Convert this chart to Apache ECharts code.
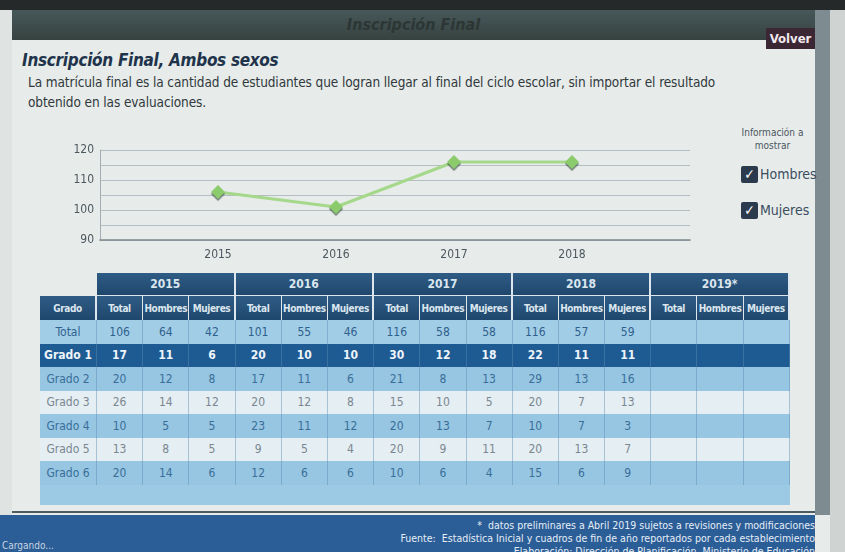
<!DOCTYPE html>
<html>
<head>
<meta charset="utf-8">
<script src="https://cdn.jsdelivr.net/npm/echarts@6/dist/echarts.min.js"></script>
<style>
  html, body { margin: 0; padding: 0; }
  body {
    width: 845px; height: 552px; overflow: hidden; position: relative;
    background: #e7ecea; font-family: "DejaVu Sans Condensed", "DejaVu Sans", sans-serif;
  }
  .abs { position: absolute; }
  #topdark { left: 0; top: 0; width: 845px; height: 10px; background: #26292a; }
  #header {
    left: 12px; top: 10px; width: 803px; height: 30px;
    background: linear-gradient(#47585a, #36423f);
    text-align: center; line-height: 30px; color: #2c3634;
    font-style: italic; font-weight: bold; font-size: 16px;
  }
  #volver {
    left: 766px; top: 28px; width: 49px; height: 21px; background: #3b2634;
    color: #f1e9ee; font-weight: bold; font-size: 13px; line-height: 21px; text-align: center;
  }
  #leftstrip { left: 0; top: 10px; width: 12px; height: 505px; background: #dfe3e2; }
  #rightstrip { left: 815px; top: 10px; width: 15px; height: 505px; background: #7e8c91; }
  #rightstrip2 { left: 830px; top: 10px; width: 15px; height: 542px; background: #cfd3d2; }
  #title {
    left: 22px; top: 50px; font-size: 17px; font-weight: bold; font-style: italic;
    color: #20334a; letter-spacing: -0.3px;
  }
  #desc {
    left: 28px; top: 72px; width: 700px; font-size: 13.5px; line-height: 20px; color: #30383c;
    letter-spacing: -0.1px;
  }
  #chart { left: 0; top: 130px; width: 720px; height: 140px; }
  #info { left: 730px; top: 126px; width: 85px; text-align: center; font-size: 10px; line-height: 13px; color: #4a5560; }
  .chk { left: 741px; width: 17px; height: 17px; background: #2b3a4c; border-radius: 2px;
         color: #fff; font-size: 14px; line-height: 17px; text-align: center; font-weight: bold; }
  .chklbl { left: 760px; font-size: 14px; color: #3b4d5f; }
  #tbl { left: 40px; top: 273px; border-collapse: separate; border-spacing: 0; table-layout: fixed; width: 750px; }
  #tbl td, #tbl th { padding: 0; text-align: center; font-size: 11px; overflow: hidden; white-space: nowrap; }
  #tbl th { color: #dbe6ef; font-weight: bold; background: linear-gradient(#2f5c85, #1f476d); border-right: 2px solid #dce6ec; }
  #tbl tr.yr th { height: 22px; border-bottom: 1px solid #dce6ec; font-size: 12px; }
  #tbl tr.sub th { height: 24px; font-size: 10px; letter-spacing: -0.4px; border-right: 1px solid #dce6ec; }
  #tbl tr.sub th.first { border-right: 2px solid #dce6ec; }
  #tbl td { height: 23.5px; border-right: 1px solid rgba(90,140,180,0.45); font-size: 12px; }
  #tbl tr.lt td { background: #96c6e2; color: #3a6e99; }
  #tbl tr.wh td { background: #e4eef3; color: #7b8790; }
  #tbl tr.dk td { background: #1e5b93; color: #eef4fa; font-weight: bold; }
  #tbl tr.tot td { background: #a2cde6; color: #2f618d; }
  #tbl tr.fill td { background: #9cc9e3; height: 20px; border-right: none; }
  #tbl td.g { color: #53606a; }
  #tbl tr.dk td.g { color: #eef4fa; }
  #line1 { left: 12px; top: 511px; width: 803px; height: 2px; background: #4d5a60; }
  #footer { left: 0; top: 515px; width: 815px; height: 37px; background: #2b5d96; }
  .ft { right: 30px; color: #e6eef7; font-size: 10.5px; white-space: nowrap; }
  #cargando { left: 2px; top: 540px; font-size: 10px; color: #c7d3e0; }
</style>
</head>
<body>
<div id="topdark" class="abs"></div>
<div id="leftstrip" class="abs"></div>
<div id="rightstrip2" class="abs"></div>
<div id="rightstrip" class="abs"></div>
<div id="header" class="abs">Inscripción Final</div>
<div id="volver" class="abs">Volver</div>
<div id="title" class="abs">Inscripción Final, Ambos sexos</div>
<div id="desc" class="abs">La matrícula final es la cantidad de estudiantes que logran llegar al final del ciclo escolar, sin importar el resultado obtenido en las evaluaciones.</div>
<div id="chart" class="abs"></div>
<div id="info" class="abs">Información a<br>mostrar</div>
<div class="abs chk" style="top:166px">✓</div>
<div class="abs chklbl" style="top:166px">Hombres</div>
<div class="abs chk" style="top:202px">✓</div>
<div class="abs chklbl" style="top:202px">Mujeres</div>
<table id="tbl" class="abs"></table>
<div id="line1" class="abs"></div>
<div id="footer" class="abs"></div>
<div class="abs ft" style="top:519px">*&nbsp; datos preliminares a Abril 2019 sujetos a revisiones y modificaciones</div>
<div class="abs ft" style="top:532px">Fuente:&nbsp; Estadística Inicial y cuadros de fin de año reportados por cada establecimiento</div>
<div class="abs ft" style="top:545px">Elaboración: Dirección de Planificación, Ministerio de Educación</div>
<div id="cargando" class="abs">Cargando...</div>

<script>
// datos del grafico
const chartYears = [2015, 2016, 2017, 2018];
const chartTotals = [106, 101, 116, 116];

// datos de la tabla
const tableYears = ["2015", "2016", "2017", "2018", "2019*"];
const subCols = ["Total", "Hombres", "Mujeres"];
const grados = ["Total", "Grado 1", "Grado 2", "Grado 3", "Grado 4", "Grado 5", "Grado 6"];
const total2015 = [106, 17, 20, 26, 10, 13, 20];
const hombres2015 = [64, 11, 12, 14, 5, 8, 14];
const mujeres2015 = [42, 6, 8, 12, 5, 5, 6];
const total2016 = [101, 20, 17, 20, 23, 9, 12];
const hombres2016 = [55, 10, 11, 12, 11, 5, 6];
const mujeres2016 = [46, 10, 6, 8, 12, 4, 6];
const total2017 = [116, 30, 21, 15, 20, 20, 10];
const hombres2017 = [58, 12, 8, 10, 13, 9, 6];
const mujeres2017 = [58, 18, 13, 5, 7, 11, 4];
const total2018 = [116, 22, 29, 20, 10, 20, 15];
const hombres2018 = [57, 11, 13, 7, 7, 13, 6];
const mujeres2018 = [59, 11, 16, 13, 3, 7, 9];
const empty2019 = ["", "", "", "", "", "", ""];

const columns = [
  total2015, hombres2015, mujeres2015,
  total2016, hombres2016, mujeres2016,
  total2017, hombres2017, mujeres2017,
  total2018, hombres2018, mujeres2018,
  empty2019, empty2019, empty2019
];
const rowClass = ["tot", "dk", "lt", "wh", "lt", "wh", "lt"];

function buildTable() {
  let html = '<colgroup><col style="width:57px">';
  for (let i = 0; i < columns.length; i++) html += '<col>';
  html += '</colgroup>';
  html += '<tr class="yr"><th style="background:transparent;border:none"></th>';
  tableYears.forEach(y => { html += '<th colspan="3">' + y + '</th>'; });
  html += '</tr><tr class="sub"><th class="first">Grado</th>';
  tableYears.forEach(() => { subCols.forEach((s, k) => {
    html += '<th' + (k === 2 ? ' class="first"' : '') + '>' + s + '</th>';
  }); });
  html += '</tr>';
  grados.forEach((g, r) => {
    html += '<tr class="' + rowClass[r] + '"><td class="g">' + g + '</td>';
    columns.forEach(col => { html += '<td>' + col[r] + '</td>'; });
    html += '</tr>';
  });
  html += '<tr class="fill"><td colspan="' + (columns.length + 1) + '"></td></tr>';
  document.getElementById("tbl").innerHTML = html;
}
buildTable();

const chart = echarts.init(document.getElementById("chart"));
chart.setOption({
  animation: false,
  grid: { left: 100, right: 30, top: 20, bottom: 30 },
  xAxis: {
    type: "value",
    min: 2014,
    max: 2019,
    interval: 1,
    axisLine: { show: true, lineStyle: { color: "#7d878c", width: 1.5 } },
    axisTick: { show: false },
    splitLine: { show: false },
    axisLabel: {
      margin: 9,
      color: "#4d575e",
      fontSize: 12,
      fontFamily: "DejaVu Sans Condensed",
      formatter: v => (chartYears.indexOf(v) >= 0 ? String(v) : "")
    }
  },
  yAxis: {
    type: "value",
    min: 90,
    max: 120,
    interval: 5,
    axisLine: { show: true, lineStyle: { color: "#a3adb2" } },
    axisTick: { show: false },
    splitLine: { lineStyle: { color: "#b4bec3", width: 1 } },
    axisLabel: {
      margin: 6,
      color: "#4d575e",
      fontSize: 12,
      fontFamily: "DejaVu Sans Condensed",
      formatter: v => (v % 10 === 0 ? String(v) : "")
    }
  },
  series: [{
    type: "line",
    data: chartYears.map((y, i) => [y, chartTotals[i]]),
    lineStyle: { color: "#a5d88a", width: 3 },
    symbol: "diamond",
    symbolSize: 14,
    itemStyle: { color: "#8ccb6c", shadowColor: "rgba(40,60,50,0.6)", shadowOffsetY: 2, shadowBlur: 1 }
  }]
});
</script>
</body>
</html>
